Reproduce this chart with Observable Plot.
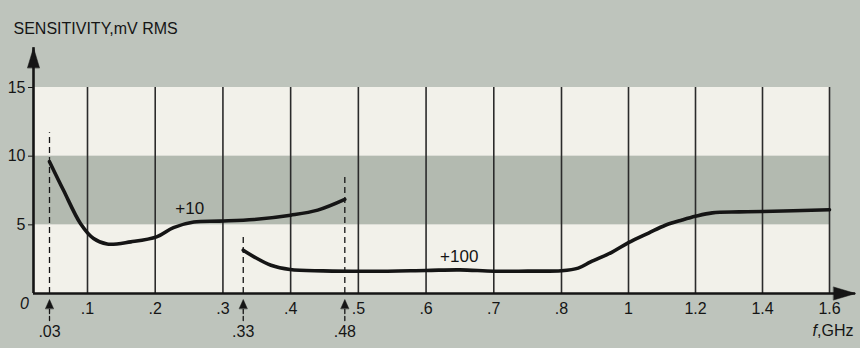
<!DOCTYPE html>
<html><head><meta charset="utf-8">
<script src="https://cdn.jsdelivr.net/npm/d3@7"></script>
<script src="https://cdn.jsdelivr.net/npm/@observablehq/plot@0.6"></script>
<style>
html,body{margin:0;padding:0;background:#bec4bc;}
#chart svg{display:block;}
</style></head><body><div id="chart"></div>
<script>
// ---- data ----
const title = "SENSITIVITY,mV RMS";
const xUnitLabel = ",GHz";
const xUnitSymbol = "f";
const originLabel = "0";

const xTicks = [0.1, 0.2, 0.3, 0.4, 0.5, 0.6, 0.7, 0.8, 1.0, 1.2, 1.4, 1.6];
const xTickLabels = [".1", ".2", ".3", ".4", ".5", ".6", ".7", ".8", "1", "1.2", "1.4", "1.6"];
const yTicks = [5, 10, 15];
const yTickLabels = ["5", "10", "15"];
const yMax = 15;
const shadedBand = [5, 10];          // grey band between 5 and 10 mV
const xAxisTip = 1.678;              // x-axis arrow runs a little past 1.6 GHz
const yAxisTip = 17.9;               // y-axis arrow runs a little past 15 mV

const markerFreqs = [0.03, 0.33, 0.48];
const markerLabels = [".03", ".33", ".48"];
const markerTops = [11.7, 4.2, 8.7];

// "+10" range
const f10 = [0.03, 0.056, 0.087, 0.109, 0.129, 0.164, 0.202, 0.227, 0.257, 0.295, 0.346, 0.40, 0.44, 0.48];
const s10 = [9.6, 7.5, 5.1, 4.0, 3.6, 3.76, 4.12, 4.8, 5.2, 5.27, 5.39, 5.7, 6.07, 6.85];
// "+100" range
const f100 = [0.33, 0.346, 0.371, 0.399, 0.448, 0.52, 0.60, 0.65, 0.70, 0.75, 0.80, 0.85, 0.887, 0.95, 1.0, 1.06, 1.11, 1.16, 1.20, 1.25, 1.33, 1.40, 1.60];
const s100 = [3.15, 2.67, 2.06, 1.75, 1.65, 1.62, 1.68, 1.72, 1.62, 1.63, 1.66, 1.85, 2.3, 3.0, 3.7, 4.4, 4.97, 5.35, 5.62, 5.87, 5.94, 5.97, 6.1];

const seriesLabels = ["+10", "+100"];
const seriesLabelF = [0.251, 0.649];
const seriesLabelS = [6.18, 2.72];

// ---- scale configuration (piecewise axis as printed) ----
const xDomain = [0, 0.03, 0.1, 0.8, 1.6];
const xRange = [33, 49, 87, 561, 829];

// ---- build tables ----
const rows = (f, s) => f.map((d, i) => ({f: d, s: s[i]}));
const curve10 = rows(f10, s10);
const curve100 = rows(f100, s100);
const markers = markerFreqs.map((f, i) => ({f, top: markerTops[i], label: markerLabels[i]}));
const seriesText = seriesLabels.map((t, i) => ({t, f: seriesLabelF[i], s: seriesLabelS[i]}));

const ink = "#151515";
const bg = "#bec4bc";
const bandLight = "#f2f1ea";
const bandDark = "#b3bab0";
const font = "'Liberation Sans', Arial, Helvetica, sans-serif";

const headShape = {draw(ctx, l, r) { ctx.moveTo(-r, 0); ctx.lineTo(0, -l); ctx.lineTo(r, 0); ctx.closePath(); }};
const shaftShape = {draw(ctx, l) { ctx.moveTo(0, 0); ctx.lineTo(0, -l); }};

const chart = Plot.plot({
  width: 860, height: 348,
  marginTop: 87, marginBottom: 55, marginLeft: 33, marginRight: 31,
  style: {background: bg, fontFamily: font, fontSize: "16px", color: ink},
  x: {type: "linear", domain: xDomain, range: xRange, ticks: xTicks,
      tickFormat: d => xTickLabels[xTicks.indexOf(d)], tickSize: 0, tickPadding: 9, label: null},
  y: {domain: [0, yMax], ticks: yTicks, tickFormat: d => yTickLabels[yTicks.indexOf(d)],
      tickSize: 5, tickPadding: 3, label: null},
  marks: [
    Plot.rect([{lo: 0, hi: yMax}], {x1: xDomain[0], x2: xDomain[xDomain.length - 1], y1: "lo", y2: "hi", fill: bandLight}),
    Plot.rect([{lo: shadedBand[0], hi: shadedBand[1]}], {x1: xDomain[0], x2: xDomain[xDomain.length - 1], y1: "lo", y2: "hi", fill: bandDark}),
    Plot.ruleX(xTicks, {y1: 0, y2: yMax, stroke: "#2b2b2b", strokeWidth: 1.6}),
    Plot.ruleX(markers, {x: "f", y1: 0, y2: "top", stroke: ink, strokeWidth: 1.3, strokeDasharray: "6,4"}),
    // axes
    Plot.ruleY([0], {x1: xDomain[0], x2: xAxisTip, stroke: ink, strokeWidth: 2.6}),
    Plot.ruleX([0], {y1: 0, y2: yAxisTip, stroke: ink, strokeWidth: 2.6}),
    Plot.vector([0], {x: 0, y: yAxisTip, length: 20, r: 6, anchor: "end", shape: headShape, fill: ink, stroke: ink, strokeWidth: 0.5}),
    Plot.vector([0], {x: xAxisTip, y: 0, length: 22, r: 6.5, rotate: 90, anchor: "end", shape: headShape, fill: ink, stroke: ink, strokeWidth: 0.5}),
    // curves
    Plot.line(curve10, {x: "f", y: "s", curve: "catmull-rom", stroke: ink, strokeWidth: 3.6}),
    Plot.line(curve100, {x: "f", y: "s", curve: "catmull-rom", stroke: ink, strokeWidth: 3.6}),
    Plot.text(seriesText, {x: "f", y: "s", text: "t", fontSize: 17, fill: ink}),
    // frequency markers below axis
    Plot.vector(markers, {x: "f", y: 0, dy: 6, length: 21, anchor: "end", shape: shaftShape, stroke: ink, strokeWidth: 1.3, strokeDasharray: "4,3"}),
    Plot.vector(markers, {x: "f", y: 0, dy: 6, length: 9, r: 4, anchor: "end", shape: headShape, fill: ink, stroke: ink, strokeWidth: 0.5}),
    Plot.text(markers, {x: "f", y: 0, dy: 38, text: "label", fontSize: 16, fill: ink}),
    // texts
    Plot.text([originLabel], {x: 0, y: 0, dx: -9, dy: 10, text: d => d, fontSize: 16, fontStyle: "italic", fill: ink}),
    Plot.text([title], {frameAnchor: "top-left", dx: -20, dy: -65, text: d => d, textAnchor: "start", fontSize: 16, fill: ink}),
    Plot.text([xUnitLabel], {frameAnchor: "bottom-right", dx: 24, dy: 42, text: d => d, textAnchor: "end", fontSize: 16, fill: ink}),
    Plot.text([xUnitSymbol], {frameAnchor: "bottom-right", dx: -12.5, dy: 42, text: d => d, textAnchor: "end", fontSize: 16, fontStyle: "italic", fill: ink})
  ]
});
document.getElementById("chart").appendChild(chart);
</script></body></html>
